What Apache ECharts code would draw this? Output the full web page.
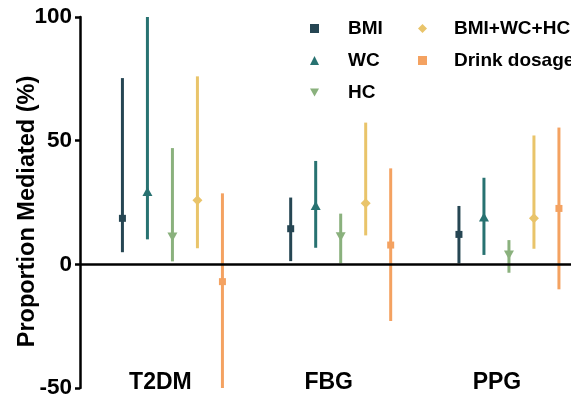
<!DOCTYPE html>
<html>
<head>
<meta charset="utf-8">
<title>Proportion Mediated</title>
<script src="https://cdn.jsdelivr.net/npm/echarts@6/dist/echarts.min.js"></script>
<style>
  html, body { margin: 0; padding: 0; background: #fff; }
  #main { width: 571px; height: 403px; }
</style>
</head>
<body>
<div id="main"></div>
<script>
    // groups on the x axis
    var groups = ['T2DM', 'FBG', 'PPG'];

    // estimate / lower / upper, one value per group
    var bmiEst = [18.6, 14.4, 12.1];
    var bmiLow = [4.9, 1.3, 0.4];
    var bmiHigh = [75.3, 27.0, 23.6];

    var wcEst = [29.2, 23.6, 18.9];
    var wcLow = [10.1, 6.7, 3.8];
    var wcHigh = [100, 41.8, 35.0];

    var hcEst = [11.3, 11.4, 4.0];
    var hcLow = [1.2, 0.4, -3.4];
    var hcHigh = [47.0, 20.5, 9.8];

    var combEst = [25.9, 24.7, 18.6];
    var combLow = [6.5, 11.7, 6.3];
    var combHigh = [76.0, 57.3, 52.1];

    var drinkEst = [-7.0, 7.8, 22.6];
    var drinkLow = [-50, -22.9, -10.1];
    var drinkHigh = [28.7, 38.8, 55.3];

    var yTicks = [-50, 0, 50, 100];

    var font = "'Liberation Sans', Arial, sans-serif";
    // pixel shift of each series inside a group
    var dodge = [-38, -13, 12, 37, 62];

    function rows(est, low, high) {
        var out = [];
        for (var i = 0; i < groups.length; i++) {
            out.push([i, low[i], high[i], est[i]]);
        }
        return out;
    }

    function markerPoints(kind, cx, cy) {
        if (kind === 'square') {
            return [[cx - 3.5, cy - 3.5], [cx + 3.5, cy - 3.5], [cx + 3.5, cy + 3.5], [cx - 3.5, cy + 3.5]];
        }
        if (kind === 'up') {
            return [[cx, cy - 5], [cx + 5, cy + 4], [cx - 5, cy + 4]];
        }
        if (kind === 'down') {
            return [[cx - 5, cy - 4], [cx + 5, cy - 4], [cx, cy + 5]];
        }
        // diamond
        return [[cx, cy - 5], [cx + 5, cy], [cx, cy + 5], [cx - 5, cy]];
    }

    function makeSeries(name, k, kind, color, est, low, high) {
        var s = {
            name: name,
            type: 'custom',
            itemStyle: { color: color },
            data: rows(est, low, high),
            renderItem: function (params, api) {
                var x = api.coord([api.value(0), 0])[0] + dodge[k];
                var y1 = api.coord([0, api.value(1)])[1];
                var y2 = api.coord([0, api.value(2)])[1];
                var ym = api.coord([0, api.value(3)])[1];
                return {
                    type: 'group',
                    children: [
                        {
                            type: 'line',
                            shape: { x1: x, y1: y1, x2: x, y2: y2 },
                            style: { stroke: color, lineWidth: 3 }
                        },
                        {
                            type: 'polygon',
                            shape: { points: markerPoints(kind, x, ym) },
                            style: { fill: color }
                        }
                    ]
                };
            }
        };
        return s;
    }

    var series = [
        makeSeries('BMI', 0, 'square', '#264653', bmiEst, bmiLow, bmiHigh),
        makeSeries('WC', 1, 'up', '#287271', wcEst, wcLow, wcHigh),
        makeSeries('HC', 2, 'down', '#8ab17d', hcEst, hcLow, hcHigh),
        makeSeries('BMI+WC+HC', 3, 'diamond', '#e9c46a', combEst, combLow, combHigh),
        makeSeries('Drink dosage', 4, 'square', '#f4a261', drinkEst, drinkLow, drinkHigh)
    ];
    // black line at zero
    series[0].markLine = {
        silent: true,
        symbol: 'none',
        label: { show: false },
        lineStyle: { color: '#000', width: 2.5, type: 'solid' },
        data: [{ yAxis: 0 }]
    };

    var legendText = { fontFamily: font, fontWeight: 'bold', fontSize: 19, color: '#000' };

    var myChart = echarts.init(document.getElementById('main'));
    myChart.setOption({
        animation: false,
        backgroundColor: '#fff',
        grid: { left: 80, right: -20, top: 17, bottom: 15, outerBoundsMode: 'none' },
        legend: [
            {
                orient: 'vertical',
                left: 305,
                top: 14,
                itemWidth: 9,
                itemHeight: 9,
                itemGap: 13,
                textStyle: Object.assign({ padding: [0, 0, 0, 24] }, legendText),
                data: [
                    { name: 'BMI', icon: 'rect' },
                    { name: 'WC', icon: 'triangle' },
                    { name: 'HC', icon: 'path://M0,0L10,0L5,9Z' }
                ]
            },
            {
                orient: 'vertical',
                left: 413,
                top: 14,
                itemWidth: 9,
                itemHeight: 9,
                itemGap: 13,
                textStyle: Object.assign({ padding: [0, 0, 0, 22] }, legendText),
                data: [
                    { name: 'BMI+WC+HC', icon: 'diamond' },
                    { name: 'Drink dosage', icon: 'rect' }
                ]
            }
        ],
        xAxis: {
            type: 'value',
            min: -0.478,
            max: 2.559,
            axisLine: { show: false },
            axisTick: { show: false },
            splitLine: { show: false },
            axisLabel: {
                customValues: [0, 1, 2],
                margin: -5,
                verticalAlign: 'middle',
                fontFamily: font,
                fontWeight: 'bold',
                fontSize: 23,
                color: '#000',
                formatter: function (v) { return groups[Math.round(v)]; }
            }
        },
        yAxis: {
            type: 'value',
            min: yTicks[0],
            max: yTicks[yTicks.length - 1],
            interval: 50,
            name: 'Proportion Mediated (%)',
            nameLocation: 'middle',
            nameGap: 40,
            nameMoveOverlap: false,
            nameTextStyle: {
                fontFamily: font, fontWeight: 'bold', fontSize: 23.5, color: '#000',
                padding: [0, 18, 0, 0]
            },
            axisLine: { show: true, onZero: false, lineStyle: { color: '#000', width: 2.5 } },
            axisTick: { show: true, length: 5, lineStyle: { color: '#000', width: 2.5 } },
            splitLine: { show: false },
            axisLabel: {
                margin: 8,
                fontFamily: font,
                fontWeight: 'bold',
                fontSize: 22.5,
                color: '#000'
            }
        },
        series: series
    });
</script>
</body>
</html>
